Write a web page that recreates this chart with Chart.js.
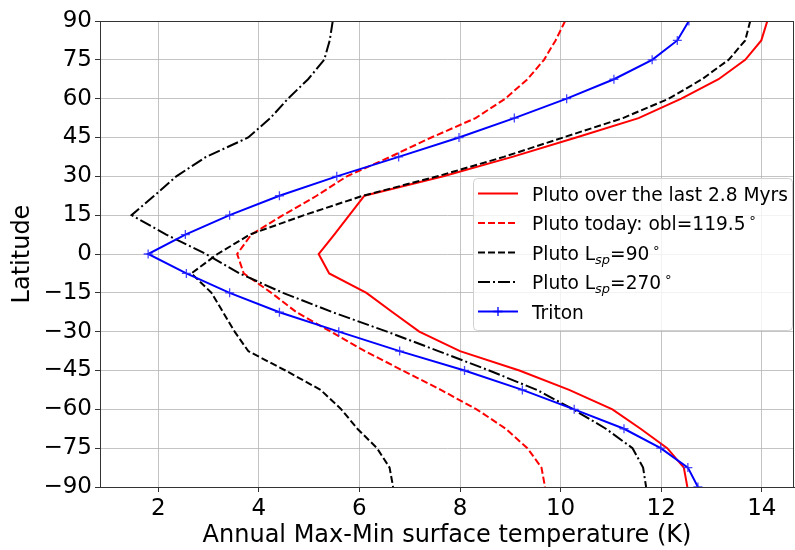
<!DOCTYPE html>
<html>
<head>
<meta charset="utf-8">
<script src="https://cdn.jsdelivr.net/npm/chart.js@4"></script>
<style>
  html, body { margin: 0; padding: 0; background: #fff; }
</style>
</head>
<body>
<canvas id="chart" width="795" height="550"></canvas>
<script>
// latitudes (deg), one value every 7.5 deg from north to south pole
const latitudes = [90, 82.5, 75, 67.5, 60, 52.5, 45, 37.5, 30, 22.5, 15, 7.5, 0,
  -7.5, -15, -22.5, -30, -37.5, -45, -52.5, -60, -67.5, -75, -82.5, -90];

// annual max-min surface temperature (K)
const plutoAll = [14.11, 13.99, 13.67, 13.14, 12.40, 11.55, 10.31, 9.04, 7.67, 6.10, 5.80, 5.50, 5.19,
  5.40, 6.14, 6.66, 7.19, 8.00, 9.18, 10.17, 11.03, 11.59, 12.12, 12.45, 12.52];
const plutoToday = [10.09, 9.90, 9.67, 9.34, 8.90, 8.31, 7.43, 6.61, 5.75, 5.15, 4.48, 3.85, 3.57,
  3.70, 4.25, 4.75, 5.43, 6.11, 6.86, 7.62, 8.33, 8.91, 9.34, 9.62, 9.69];
const plutoLsp90 = [13.77, 13.67, 13.34, 12.81, 12.15, 11.24, 10.05, 8.87, 7.55, 6.07, 4.90, 3.82, 3.18,
  2.66, 3.06, 3.29, 3.52, 3.79, 4.53, 5.23, 5.64, 5.96, 6.35, 6.60, 6.67];
const plutoLsp270 = [5.47, 5.41, 5.30, 4.98, 4.58, 4.23, 3.79, 2.95, 2.36, 1.92, 1.47, 2.16, 2.95,
  3.62, 4.48, 5.47, 6.55, 7.57, 8.58, 9.53, 10.25, 10.90, 11.43, 11.64, 11.70];
const triton = [12.55, 12.32, 11.82, 11.06, 10.12, 9.08, 7.98, 6.78, 5.55, 4.41, 3.42, 2.54, 1.80,
  2.56, 3.42, 4.41, 5.59, 6.80, 8.09, 9.24, 10.27, 11.26, 11.99, 12.53, 12.73];

const xTicks = [2, 4, 6, 8, 10, 12, 14];
const yTicks = [-90, -75, -60, -45, -30, -15, 0, 15, 30, 45, 60, 75, 90];

const FONT = "'DejaVu Sans', sans-serif";
const gridColor = 'rgba(176,176,176,0.75)';

// legend labels: parts with optional sub / sup
const series = [
  { data: plutoAll, color: '#ff0000', dash: [], label: [{ t: 'Pluto over the last 2.8 Myrs' }] },
  { data: plutoToday, color: '#ff0000', dash: [7, 3],
    label: [{ t: 'Pluto today: obl=119.5' }, { t: '\u2218', sup: true }] },
  { data: plutoLsp90, color: '#000000', dash: [7, 3],
    label: [{ t: 'Pluto L' }, { t: 'sp', sub: true }, { t: '=90' }, { t: '\u2218', sup: true }] },
  { data: plutoLsp270, color: '#000000', dash: [12, 3, 2, 3],
    label: [{ t: 'Pluto L' }, { t: 'sp', sub: true }, { t: '=270' }, { t: '\u2218', sup: true }] },
  { data: triton, color: '#0000ff', dash: [], marker: true, label: [{ t: 'Triton' }] },
];

const datasets = series.map((s, i) => ({
  data: s.data.map((v, j) => ({ x: v, y: latitudes[j] })),
  showLine: true,
  borderColor: s.color,
  backgroundColor: s.color,
  borderWidth: 2,
  borderDash: s.dash,
  pointStyle: 'cross',
  pointRadius: s.marker ? 4.5 : 0,
  pointBorderWidth: 1.3,
  pointBorderColor: 'rgba(40,40,255,0.85)',
  order: series.length - i,
}));

function drawLegend(chart) {
  const ctx = chart.ctx;
  const x0 = 473, y0 = 178, w = 319, h = 152;
  ctx.save();
  ctx.beginPath();
  ctx.roundRect(x0 + 0.5, y0 + 0.5, w, h, 4);
  ctx.fillStyle = 'rgba(255,255,255,0.8)';
  ctx.fill();
  ctx.strokeStyle = 'rgba(204,204,204,0.9)';
  ctx.lineWidth = 1;
  ctx.stroke();

  series.forEach((s, i) => {
    const ry = 193.5 + i * 29.5;
    ctx.beginPath();
    ctx.setLineDash(s.dash);
    ctx.strokeStyle = s.color;
    ctx.lineWidth = 2;
    ctx.moveTo(478, ry);
    ctx.lineTo(518, ry);
    ctx.stroke();
    ctx.setLineDash([]);
    if (s.marker) {
      ctx.beginPath();
      ctx.lineWidth = 1.3;
      ctx.moveTo(498, ry - 4.5); ctx.lineTo(498, ry + 4.5);
      ctx.moveTo(493.5, ry); ctx.lineTo(502.5, ry);
      ctx.stroke();
    }
    let tx = 532;
    const base = ry + 7;
    ctx.fillStyle = '#000';
    ctx.textBaseline = 'alphabetic';
    ctx.textAlign = 'left';
    s.label.forEach(p => {
      if (p.sub) {
        ctx.font = 'italic 13px ' + FONT;
        ctx.fillText(p.t, tx, base + 4);
        tx += ctx.measureText(p.t).width;
      } else if (p.sup) {
        ctx.font = '13px ' + FONT;
        tx += 3;
        ctx.fillText(p.t, tx, base - 8);
        tx += ctx.measureText(p.t).width;
      } else {
        ctx.font = '18.6px ' + FONT;
        ctx.fillText(p.t, tx, base);
        tx += ctx.measureText(p.t).width;
      }
    });
  });
  ctx.restore();
}

const framePlugin = {
  id: 'frame',
  afterDraw(chart) {
    const a = chart.chartArea;
    const ctx = chart.ctx;
    ctx.save();
    ctx.strokeStyle = '#333';
    ctx.lineWidth = 1;
    ctx.strokeRect(Math.round(a.left) + 0.5, Math.round(a.top) + 0.5,
      Math.round(a.right - a.left) - 1, Math.round(a.bottom - a.top));
    ctx.restore();
    drawLegend(chart);
  }
};

new Chart(document.getElementById('chart'), {
  type: 'scatter',
  data: { datasets: datasets },
  plugins: [framePlugin],
  options: {
    responsive: false,
    animation: false,
    layout: { autoPadding: false, padding: { top: 21, right: 1, left: 0, bottom: 0 } },
    plugins: { legend: { display: false }, tooltip: { enabled: false } },
    scales: {
      x: {
        type: 'linear',
        min: 0.843,
        max: 14.64,
        afterBuildTicks: s => { s.ticks = xTicks.map(v => ({ value: v })); },
        afterFit: s => { s.height = 63; s.paddingLeft = 0; s.paddingRight = 0; },
        grid: { color: gridColor, lineWidth: 1, tickLength: 5, tickColor: '#333', tickWidth: 1 },
        border: { color: '#333', width: 1 },
        ticks: { font: { family: FONT, size: 23 }, color: '#000', padding: 3, maxRotation: 0 },
        title: {
          display: true,
          text: 'Annual Max-Min surface temperature (K)',
          font: { family: FONT, size: 24 },
          color: '#000',
          padding: { top: 0, bottom: 0 }
        }
      },
      y: {
        type: 'linear',
        min: -90,
        max: 90,
        afterBuildTicks: s => { s.ticks = yTicks.map(v => ({ value: v })); },
        afterFit: s => { s.width = 100; s.paddingTop = 0; s.paddingBottom = 0; },
        grid: { color: gridColor, lineWidth: 1, tickLength: 5, tickColor: '#333', tickWidth: 1 },
        border: { color: '#333', width: 1 },
        ticks: {
          font: { family: FONT, size: 23 },
          color: '#000',
          padding: 3,
          callback: v => (v < 0 ? '\u2212' + Math.abs(v) : String(v))
        },
        title: {
          display: true,
          text: 'Latitude',
          font: { family: FONT, size: 24 },
          color: '#000',
          padding: { top: 8, bottom: 0 }
        }
      }
    }
  }
});
</script>
</body>
</html>
